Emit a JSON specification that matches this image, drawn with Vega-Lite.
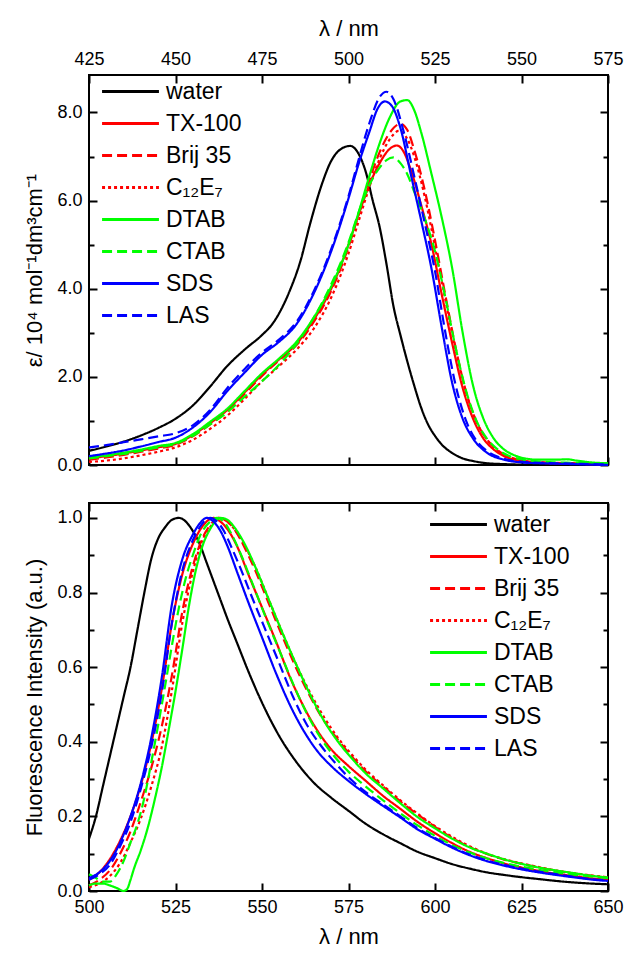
{
"$schema": "https://vega.github.io/schema/vega-lite/v6.json",
"padding": {"left": 22, "top": 16, "right": 5, "bottom": 5},
"background": "white",
"datasets": {
"abs": [
{"s":"water","x":425,"y":0.32},{"s":"water","x":430,"y":0.42},{"s":"water","x":435,"y":0.53},{"s":"water","x":440,"y":0.67},{"s":"water","x":445,"y":0.84},{"s":"water","x":450,"y":1.05},{"s":"water","x":455,"y":1.35},{"s":"water","x":460,"y":1.78},{"s":"water","x":465,"y":2.25},{"s":"water","x":470,"y":2.62},{"s":"water","x":475,"y":2.95},{"s":"water","x":478,"y":3.2},{"s":"water","x":481,"y":3.6},{"s":"water","x":483,"y":3.95},{"s":"water","x":486,"y":4.6},{"s":"water","x":489,"y":5.5},{"s":"water","x":492,"y":6.3},{"s":"water","x":495,"y":6.9},{"s":"water","x":498,"y":7.18},{"s":"water","x":500.5,"y":7.24},{"s":"water","x":503,"y":7.05},{"s":"water","x":505,"y":6.65},{"s":"water","x":507,"y":6.0},{"s":"water","x":509,"y":5.4},{"s":"water","x":511,"y":4.55},{"s":"water","x":513,"y":3.6},{"s":"water","x":515,"y":2.95},{"s":"water","x":517,"y":2.35},{"s":"water","x":519,"y":1.8},{"s":"water","x":521,"y":1.3},{"s":"water","x":523,"y":0.92},{"s":"water","x":525,"y":0.66},{"s":"water","x":527,"y":0.46},{"s":"water","x":530,"y":0.27},{"s":"water","x":533,"y":0.15},{"s":"water","x":536,"y":0.09},{"s":"water","x":540,"y":0.04},{"s":"water","x":545,"y":0.02},{"s":"water","x":550,"y":0.01},{"s":"water","x":560,"y":0.005},{"s":"water","x":575,"y":0.0},
{"s":"TX-100","x":425,"y":0.15},{"s":"TX-100","x":430,"y":0.2},{"s":"TX-100","x":435,"y":0.26},{"s":"TX-100","x":440,"y":0.33},{"s":"TX-100","x":445,"y":0.4},{"s":"TX-100","x":450,"y":0.48},{"s":"TX-100","x":455,"y":0.68},{"s":"TX-100","x":460,"y":0.95},{"s":"TX-100","x":465,"y":1.25},{"s":"TX-100","x":470,"y":1.65},{"s":"TX-100","x":475,"y":2.05},{"s":"TX-100","x":480,"y":2.4},{"s":"TX-100","x":485,"y":2.75},{"s":"TX-100","x":490,"y":3.3},{"s":"TX-100","x":495,"y":4.0},{"s":"TX-100","x":500,"y":5.0},{"s":"TX-100","x":503,"y":5.7},{"s":"TX-100","x":506,"y":6.35},{"s":"TX-100","x":509,"y":6.85},{"s":"TX-100","x":512,"y":7.18},{"s":"TX-100","x":514,"y":7.25},{"s":"TX-100","x":516,"y":7.1},{"s":"TX-100","x":518,"y":6.7},{"s":"TX-100","x":521,"y":5.9},{"s":"TX-100","x":524,"y":5.0},{"s":"TX-100","x":527,"y":3.85},{"s":"TX-100","x":530,"y":2.75},{"s":"TX-100","x":533,"y":1.75},{"s":"TX-100","x":536,"y":1.05},{"s":"TX-100","x":539,"y":0.6},{"s":"TX-100","x":542,"y":0.35},{"s":"TX-100","x":545,"y":0.2},{"s":"TX-100","x":550,"y":0.09},{"s":"TX-100","x":555,"y":0.05},{"s":"TX-100","x":560,"y":0.04},{"s":"TX-100","x":565,"y":0.03},{"s":"TX-100","x":570,"y":0.02},{"s":"TX-100","x":575,"y":0.01},
{"s":"Brij 35","x":425,"y":0.12},{"s":"Brij 35","x":430,"y":0.17},{"s":"Brij 35","x":435,"y":0.23},{"s":"Brij 35","x":440,"y":0.3},{"s":"Brij 35","x":445,"y":0.37},{"s":"Brij 35","x":450,"y":0.46},{"s":"Brij 35","x":455,"y":0.65},{"s":"Brij 35","x":460,"y":0.92},{"s":"Brij 35","x":465,"y":1.22},{"s":"Brij 35","x":470,"y":1.62},{"s":"Brij 35","x":475,"y":2.02},{"s":"Brij 35","x":480,"y":2.38},{"s":"Brij 35","x":485,"y":2.72},{"s":"Brij 35","x":490,"y":3.25},{"s":"Brij 35","x":495,"y":3.95},{"s":"Brij 35","x":500,"y":4.95},{"s":"Brij 35","x":503,"y":5.7},{"s":"Brij 35","x":506,"y":6.45},{"s":"Brij 35","x":509,"y":7.1},{"s":"Brij 35","x":512,"y":7.55},{"s":"Brij 35","x":515,"y":7.74},{"s":"Brij 35","x":517,"y":7.6},{"s":"Brij 35","x":519,"y":7.15},{"s":"Brij 35","x":522,"y":6.25},{"s":"Brij 35","x":525,"y":5.1},{"s":"Brij 35","x":528,"y":3.85},{"s":"Brij 35","x":531,"y":2.65},{"s":"Brij 35","x":534,"y":1.65},{"s":"Brij 35","x":537,"y":0.98},{"s":"Brij 35","x":540,"y":0.58},{"s":"Brij 35","x":543,"y":0.34},{"s":"Brij 35","x":546,"y":0.2},{"s":"Brij 35","x":550,"y":0.11},{"s":"Brij 35","x":555,"y":0.06},{"s":"Brij 35","x":560,"y":0.05},{"s":"Brij 35","x":565,"y":0.04},{"s":"Brij 35","x":570,"y":0.03},{"s":"Brij 35","x":575,"y":0.02},
{"s":"C₁₂E₇","x":425,"y":0.07},{"s":"C₁₂E₇","x":430,"y":0.1},{"s":"C₁₂E₇","x":435,"y":0.15},{"s":"C₁₂E₇","x":440,"y":0.22},{"s":"C₁₂E₇","x":445,"y":0.3},{"s":"C₁₂E₇","x":450,"y":0.4},{"s":"C₁₂E₇","x":455,"y":0.57},{"s":"C₁₂E₇","x":460,"y":0.82},{"s":"C₁₂E₇","x":465,"y":1.12},{"s":"C₁₂E₇","x":470,"y":1.5},{"s":"C₁₂E₇","x":475,"y":1.9},{"s":"C₁₂E₇","x":480,"y":2.25},{"s":"C₁₂E₇","x":485,"y":2.62},{"s":"C₁₂E₇","x":490,"y":3.1},{"s":"C₁₂E₇","x":495,"y":3.8},{"s":"C₁₂E₇","x":500,"y":4.8},{"s":"C₁₂E₇","x":503,"y":5.55},{"s":"C₁₂E₇","x":506,"y":6.3},{"s":"C₁₂E₇","x":509,"y":6.95},{"s":"C₁₂E₇","x":512,"y":7.4},{"s":"C₁₂E₇","x":514.5,"y":7.58},{"s":"C₁₂E₇","x":517,"y":7.4},{"s":"C₁₂E₇","x":519,"y":7.0},{"s":"C₁₂E₇","x":522,"y":6.1},{"s":"C₁₂E₇","x":525,"y":4.95},{"s":"C₁₂E₇","x":528,"y":3.75},{"s":"C₁₂E₇","x":531,"y":2.6},{"s":"C₁₂E₇","x":534,"y":1.65},{"s":"C₁₂E₇","x":537,"y":0.98},{"s":"C₁₂E₇","x":540,"y":0.58},{"s":"C₁₂E₇","x":543,"y":0.33},{"s":"C₁₂E₇","x":546,"y":0.19},{"s":"C₁₂E₇","x":550,"y":0.1},{"s":"C₁₂E₇","x":555,"y":0.06},{"s":"C₁₂E₇","x":560,"y":0.04},{"s":"C₁₂E₇","x":565,"y":0.03},{"s":"C₁₂E₇","x":570,"y":0.02},{"s":"C₁₂E₇","x":575,"y":0.01},
{"s":"DTAB","x":425,"y":0.18},{"s":"DTAB","x":430,"y":0.22},{"s":"DTAB","x":435,"y":0.28},{"s":"DTAB","x":440,"y":0.35},{"s":"DTAB","x":445,"y":0.43},{"s":"DTAB","x":450,"y":0.5},{"s":"DTAB","x":455,"y":0.7},{"s":"DTAB","x":460,"y":0.98},{"s":"DTAB","x":465,"y":1.28},{"s":"DTAB","x":470,"y":1.68},{"s":"DTAB","x":475,"y":2.08},{"s":"DTAB","x":480,"y":2.42},{"s":"DTAB","x":485,"y":2.8},{"s":"DTAB","x":490,"y":3.35},{"s":"DTAB","x":495,"y":4.05},{"s":"DTAB","x":500,"y":5.0},{"s":"DTAB","x":503,"y":5.75},{"s":"DTAB","x":506,"y":6.55},{"s":"DTAB","x":509,"y":7.3},{"s":"DTAB","x":512,"y":7.9},{"s":"DTAB","x":515,"y":8.25},{"s":"DTAB","x":517,"y":8.28},{"s":"DTAB","x":519,"y":8.05},{"s":"DTAB","x":521,"y":7.55},{"s":"DTAB","x":524,"y":6.6},{"s":"DTAB","x":527,"y":5.6},{"s":"DTAB","x":530,"y":4.45},{"s":"DTAB","x":533,"y":3.0},{"s":"DTAB","x":536,"y":1.8},{"s":"DTAB","x":539,"y":1.05},{"s":"DTAB","x":542,"y":0.6},{"s":"DTAB","x":545,"y":0.35},{"s":"DTAB","x":548,"y":0.22},{"s":"DTAB","x":551,"y":0.15},{"s":"DTAB","x":555,"y":0.12},{"s":"DTAB","x":560,"y":0.12},{"s":"DTAB","x":563,"y":0.13},{"s":"DTAB","x":566,"y":0.1},{"s":"DTAB","x":570,"y":0.06},{"s":"DTAB","x":575,"y":0.04},
{"s":"CTAB","x":425,"y":0.15},{"s":"CTAB","x":430,"y":0.2},{"s":"CTAB","x":435,"y":0.25},{"s":"CTAB","x":440,"y":0.32},{"s":"CTAB","x":445,"y":0.4},{"s":"CTAB","x":450,"y":0.48},{"s":"CTAB","x":455,"y":0.66},{"s":"CTAB","x":460,"y":0.92},{"s":"CTAB","x":465,"y":1.2},{"s":"CTAB","x":470,"y":1.55},{"s":"CTAB","x":475,"y":1.9},{"s":"CTAB","x":480,"y":2.28},{"s":"CTAB","x":485,"y":2.75},{"s":"CTAB","x":490,"y":3.35},{"s":"CTAB","x":495,"y":4.1},{"s":"CTAB","x":500,"y":5.05},{"s":"CTAB","x":503,"y":5.75},{"s":"CTAB","x":506,"y":6.35},{"s":"CTAB","x":509,"y":6.75},{"s":"CTAB","x":511,"y":6.92},{"s":"CTAB","x":513,"y":6.98},{"s":"CTAB","x":515,"y":6.85},{"s":"CTAB","x":517,"y":6.6},{"s":"CTAB","x":519,"y":6.2},{"s":"CTAB","x":522,"y":5.6},{"s":"CTAB","x":525,"y":4.85},{"s":"CTAB","x":528,"y":3.8},{"s":"CTAB","x":531,"y":2.65},{"s":"CTAB","x":534,"y":1.68},{"s":"CTAB","x":537,"y":1.0},{"s":"CTAB","x":540,"y":0.6},{"s":"CTAB","x":543,"y":0.36},{"s":"CTAB","x":546,"y":0.22},{"s":"CTAB","x":550,"y":0.13},{"s":"CTAB","x":555,"y":0.08},{"s":"CTAB","x":560,"y":0.06},{"s":"CTAB","x":565,"y":0.05},{"s":"CTAB","x":570,"y":0.04},{"s":"CTAB","x":575,"y":0.03},
{"s":"SDS","x":425,"y":0.2},{"s":"SDS","x":430,"y":0.26},{"s":"SDS","x":435,"y":0.33},{"s":"SDS","x":440,"y":0.42},{"s":"SDS","x":445,"y":0.52},{"s":"SDS","x":450,"y":0.62},{"s":"SDS","x":455,"y":0.85},{"s":"SDS","x":460,"y":1.2},{"s":"SDS","x":465,"y":1.68},{"s":"SDS","x":470,"y":2.1},{"s":"SDS","x":475,"y":2.5},{"s":"SDS","x":480,"y":2.8},{"s":"SDS","x":485,"y":3.2},{"s":"SDS","x":490,"y":3.9},{"s":"SDS","x":495,"y":4.85},{"s":"SDS","x":500,"y":6.05},{"s":"SDS","x":503,"y":6.85},{"s":"SDS","x":506,"y":7.55},{"s":"SDS","x":508.5,"y":8.1},{"s":"SDS","x":510.5,"y":8.25},{"s":"SDS","x":512.5,"y":8.15},{"s":"SDS","x":515,"y":7.65},{"s":"SDS","x":518,"y":6.6},{"s":"SDS","x":521,"y":5.55},{"s":"SDS","x":524,"y":4.45},{"s":"SDS","x":527,"y":3.1},{"s":"SDS","x":530,"y":1.85},{"s":"SDS","x":533,"y":1.05},{"s":"SDS","x":536,"y":0.6},{"s":"SDS","x":540,"y":0.28},{"s":"SDS","x":545,"y":0.12},{"s":"SDS","x":550,"y":0.06},{"s":"SDS","x":555,"y":0.04},{"s":"SDS","x":560,"y":0.03},{"s":"SDS","x":565,"y":0.02},{"s":"SDS","x":570,"y":0.01},{"s":"SDS","x":575,"y":0.0},
{"s":"LAS","x":425,"y":0.4},{"s":"LAS","x":430,"y":0.45},{"s":"LAS","x":435,"y":0.52},{"s":"LAS","x":440,"y":0.58},{"s":"LAS","x":445,"y":0.65},{"s":"LAS","x":450,"y":0.72},{"s":"LAS","x":455,"y":0.9},{"s":"LAS","x":460,"y":1.25},{"s":"LAS","x":465,"y":1.75},{"s":"LAS","x":470,"y":2.18},{"s":"LAS","x":475,"y":2.55},{"s":"LAS","x":480,"y":2.85},{"s":"LAS","x":485,"y":3.25},{"s":"LAS","x":490,"y":3.95},{"s":"LAS","x":495,"y":4.9},{"s":"LAS","x":500,"y":6.1},{"s":"LAS","x":503,"y":6.95},{"s":"LAS","x":506,"y":7.75},{"s":"LAS","x":509,"y":8.35},{"s":"LAS","x":511,"y":8.47},{"s":"LAS","x":513,"y":8.3},{"s":"LAS","x":516,"y":7.55},{"s":"LAS","x":519,"y":6.55},{"s":"LAS","x":522,"y":5.5},{"s":"LAS","x":525,"y":4.4},{"s":"LAS","x":528,"y":3.0},{"s":"LAS","x":531,"y":1.8},{"s":"LAS","x":534,"y":1.0},{"s":"LAS","x":537,"y":0.55},{"s":"LAS","x":540,"y":0.32},{"s":"LAS","x":545,"y":0.14},{"s":"LAS","x":550,"y":0.07},{"s":"LAS","x":555,"y":0.05},{"s":"LAS","x":560,"y":0.04},{"s":"LAS","x":565,"y":0.03},{"s":"LAS","x":570,"y":0.02},{"s":"LAS","x":575,"y":0.01}
],
"fl": [
{"s":"water","x":500,"y":0.14},{"s":"water","x":502,"y":0.2},{"s":"water","x":504,"y":0.28},{"s":"water","x":506,"y":0.36},{"s":"water","x":508,"y":0.44},{"s":"water","x":510,"y":0.52},{"s":"water","x":512,"y":0.6},{"s":"water","x":514,"y":0.7},{"s":"water","x":516,"y":0.8},{"s":"water","x":518,"y":0.89},{"s":"water","x":520,"y":0.945},{"s":"water","x":522,"y":0.975},{"s":"water","x":524,"y":0.995},{"s":"water","x":526,"y":1.0},{"s":"water","x":528,"y":0.99},{"s":"water","x":530,"y":0.965},{"s":"water","x":532,"y":0.93},{"s":"water","x":534,"y":0.88},{"s":"water","x":536,"y":0.83},{"s":"water","x":538,"y":0.78},{"s":"water","x":540,"y":0.73},{"s":"water","x":543,"y":0.66},{"s":"water","x":546,"y":0.59},{"s":"water","x":550,"y":0.505},{"s":"water","x":555,"y":0.415},{"s":"water","x":560,"y":0.345},{"s":"water","x":565,"y":0.29},{"s":"water","x":570,"y":0.25},{"s":"water","x":575,"y":0.215},{"s":"water","x":580,"y":0.18},{"s":"water","x":585,"y":0.152},{"s":"water","x":590,"y":0.128},{"s":"water","x":595,"y":0.105},{"s":"water","x":600,"y":0.088},{"s":"water","x":605,"y":0.072},{"s":"water","x":610,"y":0.06},{"s":"water","x":615,"y":0.05},{"s":"water","x":620,"y":0.043},{"s":"water","x":625,"y":0.037},{"s":"water","x":630,"y":0.032},{"s":"water","x":635,"y":0.027},{"s":"water","x":640,"y":0.023},{"s":"water","x":645,"y":0.02},{"s":"water","x":650,"y":0.018},
{"s":"TX-100","x":500,"y":0.03},{"s":"TX-100","x":503,"y":0.05},{"s":"TX-100","x":506,"y":0.085},{"s":"TX-100","x":509,"y":0.135},{"s":"TX-100","x":512,"y":0.2},{"s":"TX-100","x":515,"y":0.285},{"s":"TX-100","x":518,"y":0.395},{"s":"TX-100","x":521,"y":0.54},{"s":"TX-100","x":524,"y":0.72},{"s":"TX-100","x":527,"y":0.85},{"s":"TX-100","x":530,"y":0.93},{"s":"TX-100","x":533,"y":0.98},{"s":"TX-100","x":536,"y":1.0},{"s":"TX-100","x":538,"y":0.99},{"s":"TX-100","x":540,"y":0.97},{"s":"TX-100","x":543,"y":0.92},{"s":"TX-100","x":546,"y":0.85},{"s":"TX-100","x":550,"y":0.76},{"s":"TX-100","x":554,"y":0.67},{"s":"TX-100","x":558,"y":0.575},{"s":"TX-100","x":562,"y":0.495},{"s":"TX-100","x":566,"y":0.43},{"s":"TX-100","x":570,"y":0.38},{"s":"TX-100","x":575,"y":0.335},{"s":"TX-100","x":580,"y":0.295},{"s":"TX-100","x":585,"y":0.255},{"s":"TX-100","x":590,"y":0.22},{"s":"TX-100","x":595,"y":0.185},{"s":"TX-100","x":600,"y":0.155},{"s":"TX-100","x":605,"y":0.128},{"s":"TX-100","x":610,"y":0.105},{"s":"TX-100","x":615,"y":0.088},{"s":"TX-100","x":620,"y":0.074},{"s":"TX-100","x":625,"y":0.063},{"s":"TX-100","x":630,"y":0.054},{"s":"TX-100","x":635,"y":0.046},{"s":"TX-100","x":640,"y":0.04},{"s":"TX-100","x":645,"y":0.034},{"s":"TX-100","x":650,"y":0.03},
{"s":"Brij 35","x":500,"y":0.015},{"s":"Brij 35","x":503,"y":0.03},{"s":"Brij 35","x":506,"y":0.055},{"s":"Brij 35","x":509,"y":0.1},{"s":"Brij 35","x":512,"y":0.16},{"s":"Brij 35","x":515,"y":0.24},{"s":"Brij 35","x":518,"y":0.33},{"s":"Brij 35","x":521,"y":0.44},{"s":"Brij 35","x":524,"y":0.58},{"s":"Brij 35","x":527,"y":0.75},{"s":"Brij 35","x":530,"y":0.87},{"s":"Brij 35","x":533,"y":0.95},{"s":"Brij 35","x":535,"y":0.98},{"s":"Brij 35","x":537.5,"y":1.0},{"s":"Brij 35","x":540,"y":0.99},{"s":"Brij 35","x":542,"y":0.97},{"s":"Brij 35","x":545,"y":0.92},{"s":"Brij 35","x":548,"y":0.86},{"s":"Brij 35","x":552,"y":0.77},{"s":"Brij 35","x":556,"y":0.68},{"s":"Brij 35","x":560,"y":0.595},{"s":"Brij 35","x":564,"y":0.52},{"s":"Brij 35","x":568,"y":0.455},{"s":"Brij 35","x":572,"y":0.405},{"s":"Brij 35","x":576,"y":0.36},{"s":"Brij 35","x":580,"y":0.32},{"s":"Brij 35","x":585,"y":0.28},{"s":"Brij 35","x":590,"y":0.24},{"s":"Brij 35","x":595,"y":0.205},{"s":"Brij 35","x":600,"y":0.172},{"s":"Brij 35","x":605,"y":0.142},{"s":"Brij 35","x":610,"y":0.118},{"s":"Brij 35","x":615,"y":0.099},{"s":"Brij 35","x":620,"y":0.084},{"s":"Brij 35","x":625,"y":0.073},{"s":"Brij 35","x":630,"y":0.063},{"s":"Brij 35","x":635,"y":0.054},{"s":"Brij 35","x":640,"y":0.047},{"s":"Brij 35","x":645,"y":0.041},{"s":"Brij 35","x":650,"y":0.036},
{"s":"C₁₂E₇","x":500,"y":0.01},{"s":"C₁₂E₇","x":503,"y":0.02},{"s":"C₁₂E₇","x":506,"y":0.04},{"s":"C₁₂E₇","x":509,"y":0.075},{"s":"C₁₂E₇","x":512,"y":0.13},{"s":"C₁₂E₇","x":515,"y":0.195},{"s":"C₁₂E₇","x":518,"y":0.28},{"s":"C₁₂E₇","x":521,"y":0.385},{"s":"C₁₂E₇","x":524,"y":0.54},{"s":"C₁₂E₇","x":527,"y":0.72},{"s":"C₁₂E₇","x":530,"y":0.855},{"s":"C₁₂E₇","x":533,"y":0.945},{"s":"C₁₂E₇","x":535,"y":0.975},{"s":"C₁₂E₇","x":537.5,"y":1.0},{"s":"C₁₂E₇","x":540,"y":0.99},{"s":"C₁₂E₇","x":542,"y":0.97},{"s":"C₁₂E₇","x":545,"y":0.925},{"s":"C₁₂E₇","x":548,"y":0.87},{"s":"C₁₂E₇","x":552,"y":0.78},{"s":"C₁₂E₇","x":556,"y":0.69},{"s":"C₁₂E₇","x":560,"y":0.605},{"s":"C₁₂E₇","x":564,"y":0.53},{"s":"C₁₂E₇","x":568,"y":0.465},{"s":"C₁₂E₇","x":572,"y":0.41},{"s":"C₁₂E₇","x":576,"y":0.365},{"s":"C₁₂E₇","x":580,"y":0.325},{"s":"C₁₂E₇","x":585,"y":0.283},{"s":"C₁₂E₇","x":590,"y":0.243},{"s":"C₁₂E₇","x":595,"y":0.207},{"s":"C₁₂E₇","x":600,"y":0.174},{"s":"C₁₂E₇","x":605,"y":0.145},{"s":"C₁₂E₇","x":610,"y":0.12},{"s":"C₁₂E₇","x":615,"y":0.1},{"s":"C₁₂E₇","x":620,"y":0.085},{"s":"C₁₂E₇","x":625,"y":0.074},{"s":"C₁₂E₇","x":630,"y":0.064},{"s":"C₁₂E₇","x":635,"y":0.055},{"s":"C₁₂E₇","x":640,"y":0.048},{"s":"C₁₂E₇","x":645,"y":0.042},{"s":"C₁₂E₇","x":650,"y":0.037},
{"s":"DTAB","x":500,"y":0.015},{"s":"DTAB","x":502,"y":0.02},{"s":"DTAB","x":504,"y":0.02},{"s":"DTAB","x":506,"y":0.015},{"s":"DTAB","x":508,"y":0.008},{"s":"DTAB","x":510,"y":0.0},{"s":"DTAB","x":511,"y":0.005},{"s":"DTAB","x":512,"y":0.03},{"s":"DTAB","x":513,"y":0.06},{"s":"DTAB","x":515,"y":0.11},{"s":"DTAB","x":517,"y":0.17},{"s":"DTAB","x":519,"y":0.245},{"s":"DTAB","x":521,"y":0.33},{"s":"DTAB","x":523,"y":0.43},{"s":"DTAB","x":525,"y":0.535},{"s":"DTAB","x":527,"y":0.65},{"s":"DTAB","x":529,"y":0.77},{"s":"DTAB","x":531,"y":0.865},{"s":"DTAB","x":533,"y":0.93},{"s":"DTAB","x":535,"y":0.97},{"s":"DTAB","x":538,"y":1.0},{"s":"DTAB","x":540,"y":0.995},{"s":"DTAB","x":542,"y":0.975},{"s":"DTAB","x":545,"y":0.93},{"s":"DTAB","x":548,"y":0.87},{"s":"DTAB","x":552,"y":0.78},{"s":"DTAB","x":556,"y":0.69},{"s":"DTAB","x":560,"y":0.605},{"s":"DTAB","x":564,"y":0.525},{"s":"DTAB","x":568,"y":0.455},{"s":"DTAB","x":572,"y":0.4},{"s":"DTAB","x":576,"y":0.355},{"s":"DTAB","x":580,"y":0.315},{"s":"DTAB","x":585,"y":0.275},{"s":"DTAB","x":590,"y":0.235},{"s":"DTAB","x":595,"y":0.198},{"s":"DTAB","x":600,"y":0.168},{"s":"DTAB","x":605,"y":0.14},{"s":"DTAB","x":610,"y":0.117},{"s":"DTAB","x":615,"y":0.1},{"s":"DTAB","x":620,"y":0.085},{"s":"DTAB","x":625,"y":0.073},{"s":"DTAB","x":630,"y":0.063},{"s":"DTAB","x":635,"y":0.055},{"s":"DTAB","x":640,"y":0.048},{"s":"DTAB","x":645,"y":0.041},{"s":"DTAB","x":650,"y":0.036},
{"s":"CTAB","x":500,"y":0.045},{"s":"CTAB","x":502,"y":0.035},{"s":"CTAB","x":504,"y":0.025},{"s":"CTAB","x":506,"y":0.025},{"s":"CTAB","x":508,"y":0.045},{"s":"CTAB","x":510,"y":0.08},{"s":"CTAB","x":512,"y":0.13},{"s":"CTAB","x":514,"y":0.18},{"s":"CTAB","x":516,"y":0.25},{"s":"CTAB","x":518,"y":0.345},{"s":"CTAB","x":520,"y":0.445},{"s":"CTAB","x":522,"y":0.55},{"s":"CTAB","x":524,"y":0.66},{"s":"CTAB","x":526,"y":0.76},{"s":"CTAB","x":528,"y":0.84},{"s":"CTAB","x":530,"y":0.9},{"s":"CTAB","x":532,"y":0.95},{"s":"CTAB","x":535,"y":0.99},{"s":"CTAB","x":537,"y":1.0},{"s":"CTAB","x":539,"y":0.99},{"s":"CTAB","x":541,"y":0.96},{"s":"CTAB","x":544,"y":0.9},{"s":"CTAB","x":547,"y":0.83},{"s":"CTAB","x":551,"y":0.735},{"s":"CTAB","x":555,"y":0.645},{"s":"CTAB","x":559,"y":0.555},{"s":"CTAB","x":563,"y":0.475},{"s":"CTAB","x":567,"y":0.41},{"s":"CTAB","x":571,"y":0.36},{"s":"CTAB","x":575,"y":0.32},{"s":"CTAB","x":580,"y":0.28},{"s":"CTAB","x":585,"y":0.243},{"s":"CTAB","x":590,"y":0.208},{"s":"CTAB","x":595,"y":0.176},{"s":"CTAB","x":600,"y":0.148},{"s":"CTAB","x":605,"y":0.123},{"s":"CTAB","x":610,"y":0.103},{"s":"CTAB","x":615,"y":0.087},{"s":"CTAB","x":620,"y":0.075},{"s":"CTAB","x":625,"y":0.065},{"s":"CTAB","x":630,"y":0.057},{"s":"CTAB","x":635,"y":0.05},{"s":"CTAB","x":640,"y":0.044},{"s":"CTAB","x":645,"y":0.039},{"s":"CTAB","x":650,"y":0.035},
{"s":"SDS","x":500,"y":0.035},{"s":"SDS","x":503,"y":0.05},{"s":"SDS","x":506,"y":0.08},{"s":"SDS","x":509,"y":0.13},{"s":"SDS","x":512,"y":0.2},{"s":"SDS","x":515,"y":0.29},{"s":"SDS","x":518,"y":0.41},{"s":"SDS","x":521,"y":0.57},{"s":"SDS","x":524,"y":0.77},{"s":"SDS","x":527,"y":0.89},{"s":"SDS","x":530,"y":0.955},{"s":"SDS","x":532,"y":0.985},{"s":"SDS","x":534,"y":1.0},{"s":"SDS","x":536,"y":0.99},{"s":"SDS","x":538,"y":0.965},{"s":"SDS","x":540,"y":0.925},{"s":"SDS","x":543,"y":0.85},{"s":"SDS","x":546,"y":0.775},{"s":"SDS","x":550,"y":0.68},{"s":"SDS","x":554,"y":0.585},{"s":"SDS","x":558,"y":0.5},{"s":"SDS","x":562,"y":0.43},{"s":"SDS","x":566,"y":0.375},{"s":"SDS","x":570,"y":0.335},{"s":"SDS","x":575,"y":0.295},{"s":"SDS","x":580,"y":0.26},{"s":"SDS","x":585,"y":0.228},{"s":"SDS","x":590,"y":0.197},{"s":"SDS","x":595,"y":0.165},{"s":"SDS","x":600,"y":0.14},{"s":"SDS","x":605,"y":0.116},{"s":"SDS","x":610,"y":0.096},{"s":"SDS","x":615,"y":0.08},{"s":"SDS","x":620,"y":0.068},{"s":"SDS","x":625,"y":0.058},{"s":"SDS","x":630,"y":0.05},{"s":"SDS","x":635,"y":0.043},{"s":"SDS","x":640,"y":0.037},{"s":"SDS","x":645,"y":0.031},{"s":"SDS","x":650,"y":0.027},
{"s":"LAS","x":500,"y":0.03},{"s":"LAS","x":503,"y":0.045},{"s":"LAS","x":506,"y":0.07},{"s":"LAS","x":509,"y":0.12},{"s":"LAS","x":512,"y":0.185},{"s":"LAS","x":515,"y":0.275},{"s":"LAS","x":518,"y":0.385},{"s":"LAS","x":521,"y":0.53},{"s":"LAS","x":524,"y":0.72},{"s":"LAS","x":527,"y":0.86},{"s":"LAS","x":530,"y":0.94},{"s":"LAS","x":532,"y":0.975},{"s":"LAS","x":535,"y":1.0},{"s":"LAS","x":537,"y":0.99},{"s":"LAS","x":539,"y":0.965},{"s":"LAS","x":541,"y":0.925},{"s":"LAS","x":544,"y":0.86},{"s":"LAS","x":547,"y":0.79},{"s":"LAS","x":551,"y":0.7},{"s":"LAS","x":555,"y":0.61},{"s":"LAS","x":559,"y":0.52},{"s":"LAS","x":563,"y":0.445},{"s":"LAS","x":567,"y":0.39},{"s":"LAS","x":571,"y":0.345},{"s":"LAS","x":575,"y":0.305},{"s":"LAS","x":580,"y":0.265},{"s":"LAS","x":585,"y":0.232},{"s":"LAS","x":590,"y":0.2},{"s":"LAS","x":595,"y":0.168},{"s":"LAS","x":600,"y":0.142},{"s":"LAS","x":605,"y":0.118},{"s":"LAS","x":610,"y":0.098},{"s":"LAS","x":615,"y":0.082},{"s":"LAS","x":620,"y":0.07},{"s":"LAS","x":625,"y":0.06},{"s":"LAS","x":630,"y":0.052},{"s":"LAS","x":635,"y":0.045},{"s":"LAS","x":640,"y":0.038},{"s":"LAS","x":645,"y":0.032},{"s":"LAS","x":650,"y":0.028}
]
},
"spacing": 26,
"vconcat": [
{
"width": 519, "height": 390,
"data": {"name": "abs"},
"layer": [
{"mark": {"type": "line", "strokeWidth": 2.2, "interpolate": "monotone"},
 "encoding": {
  "x": {"field": "x", "type": "quantitative", "scale": {"domain": [425, 575], "nice": false, "zero": false}, "axis": {"orient": "top", "values": [425, 450, 475, 500, 525, 550, 575], "title": "λ / nm"}},
  "y": {"field": "y", "type": "quantitative", "scale": {"domain": [0, 8.85], "nice": false, "zero": false}, "axis": {"orient": "left", "values": [0, 2, 4, 6, 8], "format": ".1f", "title": "ε/ 10⁴ mol⁻¹dm³cm⁻¹"}},
  "color": {"field": "s", "type": "nominal", "scale": {"domain": ["water", "TX-100", "Brij 35", "C₁₂E₇", "DTAB", "CTAB", "SDS", "LAS"], "range": ["#000000", "#ff0000", "#ff0000", "#ff0000", "#00ff00", "#00ff00", "#0000ff", "#0000ff"]}, "legend": {"title": null, "legendX": 22, "legendY": -3}},
  "strokeDash": {"field": "s", "type": "nominal", "scale": {"domain": ["water", "TX-100", "Brij 35", "C₁₂E₇", "DTAB", "CTAB", "SDS", "LAS"], "range": [[1, 0], [1, 0], [10, 5], [3, 3], [1, 0], [10, 5], [1, 0], [10, 5]]}, "legend": {"title": null, "legendX": 22, "legendY": -3}}
 }},
{"mark": {"type": "line", "strokeOpacity": 0},
 "encoding": {
  "x": {"field": "x", "type": "quantitative", "axis": {"orient": "bottom", "values": [425, 450, 475, 500, 525, 550, 575], "labels": false, "title": null}},
  "y": {"field": "y", "type": "quantitative", "axis": {"orient": "right", "values": [0, 2, 4, 6, 8], "labels": false, "title": null}}
 }},
{"mark": {"type": "line", "strokeOpacity": 0},
 "encoding": {
  "x": {"field": "x", "type": "quantitative", "axis": null},
  "y": {"field": "y", "type": "quantitative", "axis": {"orient": "left", "values": [1, 3, 5, 7], "labels": false, "tickSize": -5, "title": null}}
 }},
{"mark": {"type": "line", "strokeOpacity": 0},
 "encoding": {
  "x": {"field": "x", "type": "quantitative", "axis": null},
  "y": {"field": "y", "type": "quantitative", "axis": {"orient": "right", "values": [1, 3, 5, 7], "labels": false, "tickSize": -5, "title": null}}
 }}
],
"resolve": {"axis": {"x": "independent", "y": "independent"}}
},
{
"width": 519, "height": 388,
"data": {"name": "fl"},
"layer": [
{"mark": {"type": "line", "strokeWidth": 2.2, "interpolate": "monotone"},
 "encoding": {
  "x": {"field": "x", "type": "quantitative", "scale": {"domain": [500, 650], "nice": false, "zero": false}, "axis": {"orient": "bottom", "values": [500, 525, 550, 575, 600, 625, 650], "title": "λ / nm"}},
  "y": {"field": "y", "type": "quantitative", "scale": {"domain": [0, 1.04], "nice": false, "zero": false}, "axis": {"orient": "left", "values": [0, 0.2, 0.4, 0.6, 0.8, 1.0], "format": ".1f", "title": "Fluorescence Intensity (a.u.)"}},
  "color": {"field": "s", "type": "nominal", "scale": {"domain": ["water", "TX-100", "Brij 35", "C₁₂E₇", "DTAB", "CTAB", "SDS", "LAS"], "range": ["#000000", "#ff0000", "#ff0000", "#ff0000", "#00ff00", "#00ff00", "#0000ff", "#0000ff"]}, "legend": {"title": null, "legendX": 350, "legendY": 2}},
  "strokeDash": {"field": "s", "type": "nominal", "scale": {"domain": ["water", "TX-100", "Brij 35", "C₁₂E₇", "DTAB", "CTAB", "SDS", "LAS"], "range": [[1, 0], [1, 0], [10, 5], [3, 3], [1, 0], [10, 5], [1, 0], [10, 5]]}, "legend": {"title": null, "legendX": 350, "legendY": 2}}
 }},
{"mark": {"type": "line", "strokeOpacity": 0},
 "encoding": {
  "x": {"field": "x", "type": "quantitative", "axis": {"orient": "top", "values": [500, 525, 550, 575, 600, 625, 650], "labels": false, "title": null}},
  "y": {"field": "y", "type": "quantitative", "axis": {"orient": "right", "values": [0, 0.2, 0.4, 0.6, 0.8, 1.0], "labels": false, "title": null}}
 }},
{"mark": {"type": "line", "strokeOpacity": 0},
 "encoding": {
  "x": {"field": "x", "type": "quantitative", "axis": null},
  "y": {"field": "y", "type": "quantitative", "axis": {"orient": "left", "values": [0.1, 0.3, 0.5, 0.7, 0.9], "labels": false, "tickSize": -5, "title": null}}
 }},
{"mark": {"type": "line", "strokeOpacity": 0},
 "encoding": {
  "x": {"field": "x", "type": "quantitative", "axis": null},
  "y": {"field": "y", "type": "quantitative", "axis": {"orient": "right", "values": [0.1, 0.3, 0.5, 0.7, 0.9], "labels": false, "tickSize": -5, "title": null}}
 }}
],
"resolve": {"axis": {"x": "independent", "y": "independent"}}
}
],
"resolve": {"scale": {"color": "independent", "strokeDash": "independent", "x": "independent", "y": "independent"}, "legend": {"color": "independent", "strokeDash": "independent"}},
"config": {
 "font": "Liberation Sans",
 "view": {"stroke": "black", "strokeWidth": 2},
 "axis": {"domain": false, "grid": false, "ticks": true, "tickColor": "black", "tickWidth": 2, "tickSize": -8, "labelPadding": 15, "labelFont": "Liberation Sans", "labelFontSize": 18, "labelColor": "black", "labelFlush": false, "labelOverlap": false, "titleFont": "Liberation Sans", "titleFontSize": 22, "titleFontWeight": "normal", "titleColor": "black", "titlePadding": 10},
 "legend": {"orient": "none", "labelFont": "Liberation Sans", "labelFontSize": 23, "labelColor": "black", "symbolType": "M-1.58,0H1.58", "symbolStrokeWidth": 3, "symbolSize": 1296, "labelOffset": 16, "rowPadding": 0, "padding": 0, "labelLimit": 0}
}
}
